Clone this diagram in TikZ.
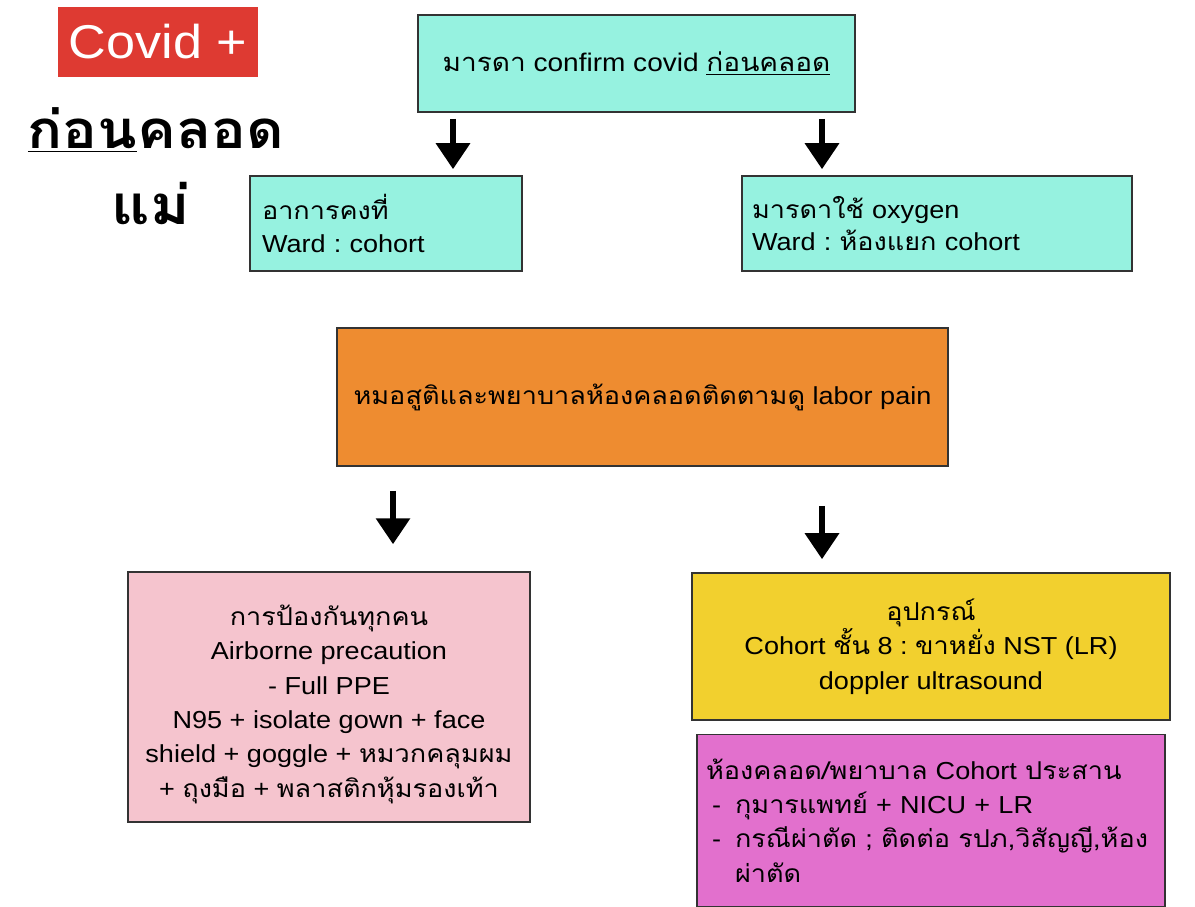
\documentclass[tikz,border=0pt]{standalone}
\usepackage{fontspec}
\setmainfont{Liberation Sans}[FakeStretch=1.1]
\newfontfamily\thaifont{Loma}[Script=Thai,FakeStretch=1.1]
\newcommand\tha[1]{{\thaifont #1}}
\usetikzlibrary{positioning, arrows.meta}
\definecolor{boxcyan}{RGB}{150,242,224}
\definecolor{boxorange}{RGB}{238,140,48}
\definecolor{boxpink}{RGB}{245,196,206}
\definecolor{boxyellow}{RGB}{242,208,46}
\definecolor{boxmagenta}{RGB}{226,112,205}
\definecolor{covidred}{RGB}{222,58,50}
\frenchspacing

\begin{document}
\begin{tikzpicture}[x=0.02cm, y=-0.02cm,
box/.style={rectangle, draw=black!80, line width=0.9pt, fill=#1,
inner sep=0pt, align=center, font=\fontsize{14}{19.5}\selectfont},
arrow/.style={-{Triangle[width=0.66cm, length=0.52cm]}, line width=3.6pt}
]
\useasboundingbox (0,0) rectangle (1195,906);

% Title
\node[fill=covidred, text=white, minimum width=4cm, minimum height=1.42cm,
font=\fontsize{27}{27}\selectfont] (covid) at (158,42) {Covid +};
\node[font=\thaifont\bfseries\fontsize{30}{36}\selectfont] (before) at (156,130)
{\underline{ก่อน}คลอด};
\node[font=\thaifont\bfseries\fontsize{31}{36}\selectfont] (mom) at (151,203) {แม่};

% Confirm
\node[box=boxcyan, minimum width=8.74cm, minimum height=1.94cm,
font=\fontsize{14.5}{20}\selectfont] (confirm) at (636.5,63.5)
{\tha{มารดา} confirm covid \tha{\underline{ก่อนคลอด}}};

% Stable / oxygen
\node[box=boxcyan, minimum height=1.9cm, text width=4.96cm, inner xsep=0.24cm,
align=left, font=\fontsize{14}{18.5}\selectfont] (stable) at (386,223.5)
{\tha{อาการคงที่}\\Ward : cohort};
\node[box=boxcyan, minimum height=1.9cm, text width=7.4cm, inner xsep=0.2cm,
align=left, font=\fontsize{14}{18.5}\selectfont] (oxygen) at (937,223.5)
{\tha{มารดาใช้} oxygen\\Ward : \tha{ห้องแยก} cohort};

% Labor pain
\node[box=boxorange, minimum width=12.22cm, minimum height=2.76cm,
font=\fontsize{14}{18}\selectfont] (labor) at (642.5,397)
{\tha{หมอสูติและพยาบาลห้องคลอดติดตามดู} labor pain};

% Protection
\node[box=boxpink, minimum width=8.04cm, minimum height=5cm] (protect) at (329,697)
{\rule{0pt}{20pt}\tha{การป้องกันทุกคน}\\Airborne precaution\\- Full PPE\\
N95 + isolate gown + face\\shield + goggle + \tha{หมวกคลุมผม}\\
+ \tha{ถุงมือ} + \tha{พลาสติกหุ้มรองเท้า}};

% Equipment
\node[box=boxyellow, minimum width=9.56cm, minimum height=2.94cm] (equip) at (931,646.5)
{\tha{อุปกรณ์}\\Cohort \tha{ชั้น} 8 : \tha{ขาหยั่ง} NST (LR)\\doppler ultrasound};

% Coordination
\node[box=boxmagenta, minimum height=3.44cm, text width=9.0cm, inner xsep=0.18cm,
align=left, below=0.26cm of equip] (coord)
{\tha{ห้องคลอด/พยาบาล} Cohort \tha{ประสาน}\\
\makebox[0.58cm][l]{\hspace{0.12cm}-}\tha{กุมารแพทย์} + NICU + LR\\
\makebox[0.58cm][l]{\hspace{0.12cm}-}\tha{กรณีผ่าตัด ; ติดต่อ รปภ,วิสัญญี,ห้อง}\\
\hspace*{0.58cm}\tha{ผ่าตัด}};

% Arrows
\coordinate (ax1) at (453,0);
\coordinate (ax2) at (822,0);
\coordinate (ax3) at (393,0);
\draw[arrow, shorten <=0.12cm, shorten >=0.12cm] (confirm.south -| ax1) -- (stable.north -| ax1);
\draw[arrow, shorten <=0.12cm, shorten >=0.12cm] (confirm.south -| ax2) -- (oxygen.north -| ax2);
\draw[arrow, shorten <=0.48cm, shorten >=0.54cm] (labor.south -| ax3) -- (protect.north -| ax3);
\draw[arrow, shorten <=0.78cm, shorten >=0.26cm] (labor.south -| ax2) -- (equip.north -| ax2);

\end{tikzpicture}
\end{document}
